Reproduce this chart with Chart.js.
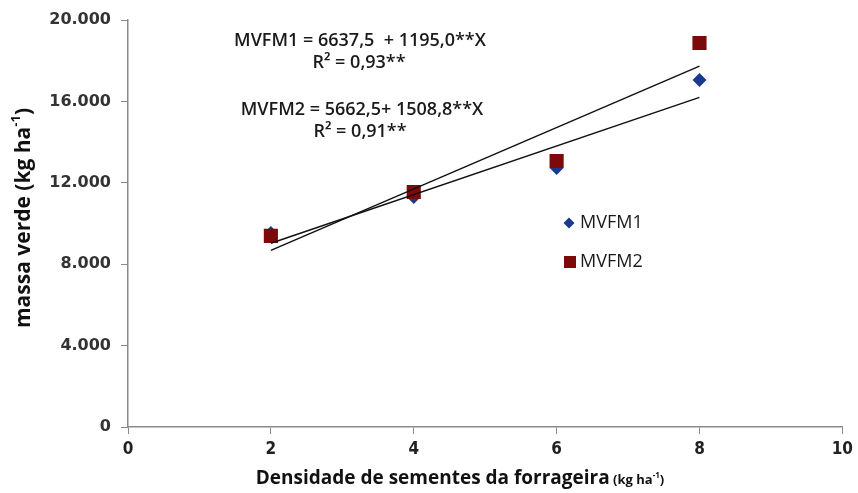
<!DOCTYPE html>
<html>
<head>
<meta charset="utf-8">
<script src="https://cdn.jsdelivr.net/npm/chart.js@4"></script>
<style>
html,body{margin:0;padding:0;background:#fff;}
#wrap{width:858px;height:493px;position:relative;}
</style>
</head>
<body>
<div id="wrap"><canvas id="c" width="858" height="493"></canvas></div>
<script>
// ---- data ----
const densidade = [2, 4, 6, 8];
const mvfm1 = [9530, 11300, 12730, 17050];
const mvfm2 = [9390, 11550, 13070, 18870];
const trendX = [2, 8];
const trend1 = [9027, 16197];
const trend2 = [8680, 17733];
const xTicks = [0, 2, 4, 6, 8, 10];
const yTicks = [0, 4000, 8000, 12000, 16000, 20000];
const seriesNames = ['MVFM1', 'MVFM2'];
const eq1 = ['MVFM1 = 6637,5  + 1195,0**X', 'R² = 0,93**'];
const eq2 = ['MVFM2 = 5662,5+ 1508,8**X', 'R² = 0,91**'];

const toPts = (xs, ys) => xs.map((x, i) => ({x: x, y: ys[i]}));
const blue = '#1b3a8f';
const red = '#7d0a0a';
const axisGray = '#8a8a8a';

const overlay = {
  id: 'overlay',
  afterDraw(chart) {
    const ctx = chart.ctx;
    ctx.save();
    // equations
    ctx.fillStyle = '#1a1a1a';
    ctx.textAlign = 'center';
    ctx.textBaseline = 'middle';
    ctx.font = '600 18px "Open Sans"';
    ctx.fillText(eq1[0], 360, 41);
    ctx.fillText(eq1[1], 359, 63);
    ctx.fillText(eq2[0], 362, 110);
    ctx.fillText(eq2[1], 360, 132);

    // legend
    ctx.textAlign = 'left';
    ctx.font = '18px "Open Sans"';
    ctx.fillStyle = blue;
    ctx.beginPath();
    ctx.moveTo(569, 217.5); ctx.lineTo(574.5, 223); ctx.lineTo(569, 228.5); ctx.lineTo(563.5, 223); ctx.closePath();
    ctx.fill();
    ctx.fillStyle = red;
    ctx.fillRect(564, 256, 12, 12);
    ctx.fillStyle = '#1a1a1a';
    ctx.fillText(seriesNames[0], 580, 223);
    ctx.fillText(seriesNames[1], 580, 262);

    // y axis title
    ctx.save();
    ctx.translate(24, 218);
    ctx.rotate(-Math.PI / 2);
    const t1 = 'massa verde (kg ha', sup = '-1', t3 = ')';
    ctx.font = 'bold 21px "Open Sans"';
    const w1 = ctx.measureText(t1).width;
    ctx.font = 'bold 13px "Open Sans"';
    const w2 = ctx.measureText(sup).width;
    ctx.font = 'bold 21px "Open Sans"';
    const w3 = ctx.measureText(t3).width;
    let sx = -(w1 + w2 + w3) / 2;
    ctx.fillStyle = '#111';
    ctx.textAlign = 'left';
    ctx.fillText(t1, sx, 0);
    ctx.font = 'bold 13px "Open Sans"';
    ctx.fillText(sup, sx + w1, -8);
    ctx.font = 'bold 21px "Open Sans"';
    ctx.fillText(t3, sx + w1 + w2, 0);
    ctx.restore();

    // x axis title
    ctx.fillStyle = '#111';
    ctx.textAlign = 'left';
    ctx.textBaseline = 'alphabetic';
    ctx.font = 'bold 19px "Open Sans"';
    const a = 'Densidade de sementes da forrageira';
    const wa = ctx.measureText(a).width;
    ctx.font = 'bold 13px "Open Sans"';
    const b1 = ' (kg ha', b2 = '-1', b3 = ')';
    const wb1 = ctx.measureText(b1).width;
    ctx.font = 'bold 8px "Open Sans"';
    const wb2 = ctx.measureText(b2).width;
    ctx.font = 'bold 13px "Open Sans"';
    const wb3 = ctx.measureText(b3).width;
    let x0 = 460 - (wa + wb1 + wb2 + wb3) / 2;
    ctx.font = 'bold 19px "Open Sans"';
    ctx.fillText(a, x0, 484);
    ctx.font = 'bold 13px "Open Sans"';
    ctx.fillText(b1, x0 + wa, 484);
    ctx.font = 'bold 8px "Open Sans"';
    ctx.fillText(b2, x0 + wa + wb1, 478);
    ctx.font = 'bold 13px "Open Sans"';
    ctx.fillText(b3, x0 + wa + wb1 + wb2, 484);
    ctx.restore();
  }
};

new Chart(document.getElementById('c'), {
  type: 'scatter',
  data: {
    datasets: [
      {label: 'trend1', data: toPts(trendX, trend1), showLine: true, borderColor: '#111', borderWidth: 1.5, pointRadius: 0, order: 0},
      {label: 'trend2', data: toPts(trendX, trend2), showLine: true, borderColor: '#111', borderWidth: 1.5, pointRadius: 0, order: 0},
      {label: seriesNames[1], data: toPts(densidade, mvfm2), pointStyle: 'rect', pointRadius: 10, backgroundColor: red, borderColor: red, borderWidth: 0, order: 1},
      {label: seriesNames[0], data: toPts(densidade, mvfm1), pointStyle: 'rectRot', pointRadius: 7, backgroundColor: blue, borderColor: blue, borderWidth: 0, order: 2}
    ]
  },
  options: {
    responsive: false,
    animation: false,
    events: [],
    layout: {padding: {left: 0, right: 14, top: 20, bottom: 0}},
    plugins: {legend: {display: false}, tooltip: {enabled: false}},
    scales: {
      x: {
        type: 'linear', min: 0, max: 10,
        afterBuildTicks: s => { s.ticks = xTicks.map(v => ({value: v})); },
        afterFit: s => { s.height = 66; },
        grid: {display: true, drawOnChartArea: false, drawTicks: true, tickLength: 7, color: axisGray, lineWidth: 1},
        border: {display: true, color: axisGray, width: 1.5},
        ticks: {color: '#222', font: {family: '"Liberation Sans Narrow", "DejaVu Sans Condensed", Roboto', size: 17, weight: 'bold'}, padding: 5, maxRotation: 0}
      },
      y: {
        type: 'linear', min: 0, max: 20000,
        afterBuildTicks: s => { s.ticks = yTicks.map(v => ({value: v})); },
        afterFit: s => { s.width = 128; },
        grid: {display: true, drawOnChartArea: false, drawTicks: true, tickLength: 7, color: axisGray, lineWidth: 1},
        border: {display: true, color: axisGray, width: 1.5},
        ticks: {
          color: '#333', font: {family: '"DejaVu Sans"', size: 16, weight: 'bold'}, padding: 10,
          callback: v => v === 0 ? '0' : v.toLocaleString('de-DE', {minimumFractionDigits: 0}).replace(/,/g, '.')
        }
      }
    }
  },
  plugins: [overlay]
});
</script>
</body>
</html>
